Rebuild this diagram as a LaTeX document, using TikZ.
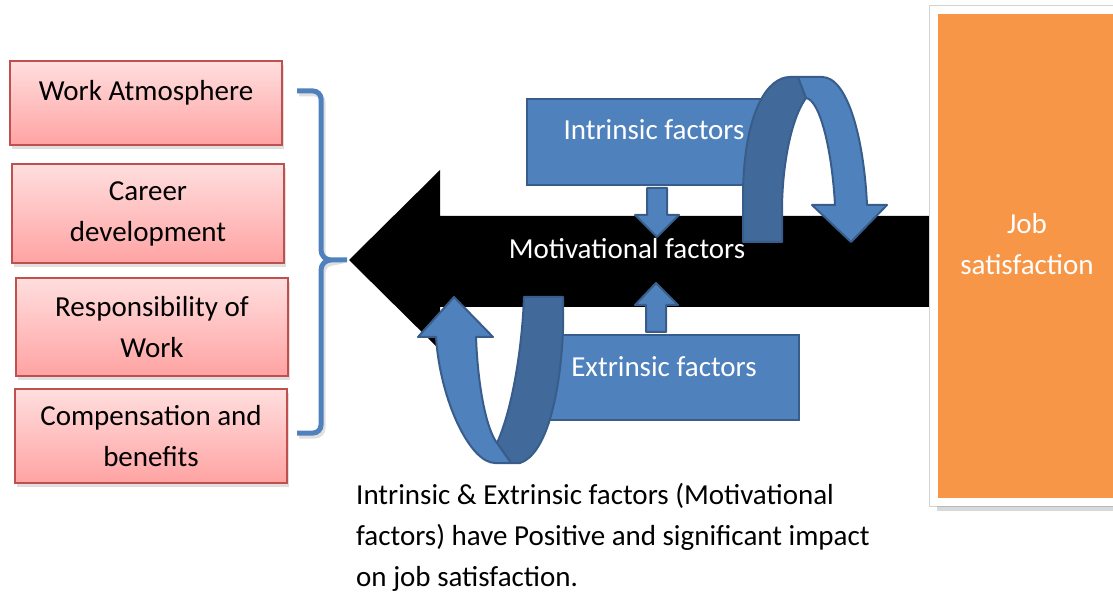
\documentclass[tikz,border=0pt]{standalone}
\usepackage{fontspec}
\setmainfont{Carlito}
\usetikzlibrary{shadows}

\definecolor{accblue}{HTML}{4F81BD}
\definecolor{accblueline}{HTML}{385D8A}
\definecolor{accbluedark}{HTML}{41699A}
\definecolor{accred}{HTML}{C0504D}
\definecolor{pinktop}{HTML}{FFDEDE}
\definecolor{pinkbot}{HTML}{FFA3A3}
\definecolor{accorange}{HTML}{F79646}

\tikzset{
	pinkbox/.style={draw=accred, line width=1.5pt, top color=pinktop, bottom color=pinkbot,
		minimum width=272, inner sep=0pt, align=center,
		drop shadow={shadow xshift=2pt, shadow yshift=-4pt, opacity=.25}},
	bluebox/.style={draw=accblueline, line width=2pt, fill=accblue, text=white, inner sep=0pt},
	upper/.style={text depth=25pt},
	jobbox/.style={draw=white, line width=8pt, fill=accorange, text=white, align=center,
		minimum width=186, minimum height=491, inner sep=0pt,
		preaction={draw=gray!35, line width=10pt},
		drop shadow={shadow xshift=3pt, shadow yshift=-9pt, opacity=.3}},
	brace/.style={draw=accblue, line width=5pt},
	ribbon/.style={fill=accblue, draw=accblueline, line width=2pt, line join=round},
	ribbonback/.style={fill=accbluedark, draw=accblueline, line width=2pt, line join=round},
}

\begin{document}
\begin{tikzpicture}[x=1pt, y=-1pt, font=\fontsize{29}{41}\selectfont]
	\useasboundingbox (0,0) rectangle (1113,593);

	\node[pinkbox, minimum height=84, upper] (work) at (146,103) {Work Atmosphere};
	\node[pinkbox, minimum height=99] (career) at (148,213.5) {Career\\development};
	\node[pinkbox, minimum height=98] (resp) at (152,327) {Responsibility of\\Work};
	\node[pinkbox, minimum height=94] (comp) at (151,436) {Compensation and\\benefits};

	\draw[brace, gray!25, xshift=2pt, yshift=-3pt]
		(297,91) -- (313,91) to[out=0,in=90] (321,99) -- (321,250) to[out=-90,in=180] (331,260)
		to[out=180,in=90] (321,270) -- (321,425) to[out=-90,in=0] (313,433) -- (297,433);
	\draw[brace]
		(297,91) -- (313,91) to[out=0,in=90] (321,99) -- (321,250) to[out=-90,in=180] (331,260) -- (347,260)
		(331,260) to[out=180,in=90] (321,270) -- (321,425) to[out=-90,in=0] (313,433) -- (297,433);

	\fill[black] (349,260) -- (440,170) -- (440,216) -- (940,216) -- (940,307) -- (440,307) -- (440,350) -- cycle;

	\node[jobbox, upper] (job) at (1027,256) {Job\\satisfaction};

	\node[bluebox, minimum width=254, minimum height=86, upper] (intr) at (654,142) {Intrinsic factors};
	\node[bluebox, minimum width=269, minimum height=85, text depth=21pt] (extr) at (664,377.5) {Extrinsic factors};

	\node[text=white] (motiv) at (627,249) {Motivational factors};

	\filldraw[ribbon] (647,188) -- (667,188) -- (667,215) -- (679,215) -- (657,237) -- (635,215) -- (647,215) -- cycle;
	\filldraw[ribbon] (646,332) -- (666,332) -- (666,305) -- (678,305) -- (656,283) -- (635,305) -- (646,305) -- cycle;

	% top loop
	\filldraw[ribbonback] (743,242) -- (743,190) .. controls (745,110) and (768,77) .. (790,77) -- (798,77) -- (806,98)
		.. controls (790,120) and (782,170) .. (782,210) -- (782,242) -- cycle;
	\filldraw[ribbon] (798,77) -- (822,77) .. controls (848,77) and (864,140) .. (867,205) -- (887,205) -- (851,242)
		-- (812,205) -- (835,205) .. controls (832,150) and (820,100) .. (806,98) -- cycle;

	% bottom loop
	\filldraw[ribbonback] (524,297) -- (563,297) -- (563,330) .. controls (560,400) and (545,455) .. (520,463) -- (511,463)
		-- (497,443) .. controls (512,410) and (522,350) .. (524,297) -- cycle;
	\filldraw[ribbon] (511,463) -- (495,463) .. controls (470,463) and (440,400) .. (436,337) -- (418,337) -- (454,297)
		-- (493,337) -- (476,337) .. controls (478,390) and (487,430) .. (497,443) -- cycle;

	\node[anchor=north west, align=left, inner sep=0pt] (note) at (356,483)
		{Intrinsic \& Extrinsic factors (Motivational\\factors) have Positive and significant impact\\on job satisfaction.};
\end{tikzpicture}
\end{document}
